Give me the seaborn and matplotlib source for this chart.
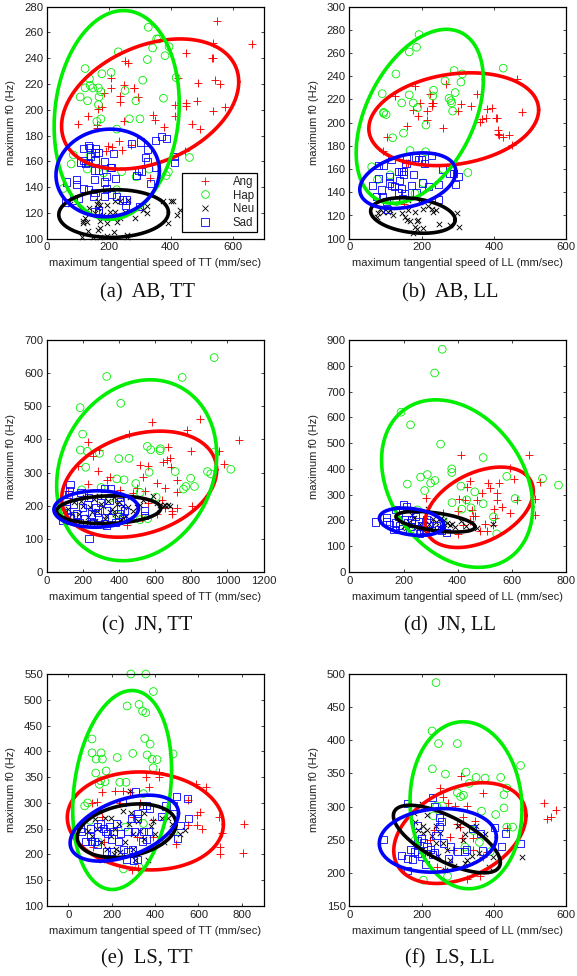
import numpy as np
import pandas as pd
import matplotlib
matplotlib.use("Agg")
import matplotlib.pyplot as plt
from matplotlib.lines import Line2D
import seaborn as sns


# Panel a: AB, TT
A_ANG_X = [549, 662, 536, 534, 537, 450, 253, 264, 208, 425, 490, 544, 560, 207, 251, 283, 282, 185, 237, 237, 294, 178, 167, 415, 450, 450, 485, 576, 538, 415, 342, 350, 248, 132, 102, 162, 162, 380, 468, 495, 235, 199, 210, 192, 242, 272, 447, 334]
A_ANG_Y = [269, 251, 252, 240, 240, 244, 238, 236, 225, 225, 221, 223, 220, 217, 219, 217, 217, 213, 211, 206, 210, 202, 201, 204, 205, 203, 207, 202, 199, 195, 196, 192, 191, 195, 189, 186, 188, 187, 189, 185, 176, 172, 171, 168, 169, 173, 168, 147]
A_HAP_X = [328, 355, 361, 395, 231, 342, 382, 325, 124, 208, 178, 138, 418, 310, 140, 124, 149, 167, 253, 175, 108, 169, 377, 132, 288, 167, 175, 162, 267, 301, 226, 86, 79, 461, 131, 242, 331, 393, 386, 289, 54, 226, 183, 140]
A_HAP_Y = [264, 255, 255, 249, 245, 248, 242, 239, 232, 229, 228, 224, 225, 223, 219, 217, 217, 217, 215, 214, 210, 210, 209, 207, 207, 204, 193, 191, 193, 193, 185, 165, 158, 163, 154, 152, 154, 152, 149, 148, 139, 138, 151, 164]
A_NEU_X = [400, 409, 377, 432, 420, 393, 323, 312, 284, 258, 258, 218, 194, 172, 167, 132, 113, 151, 172, 75, 108, 135, 162, 167, 167, 172, 194, 221, 237, 264, 118, 124, 129, 118, 183, 205, 221, 215, 226, 237, 253, 156, 172, 194, 323]
A_NEU_Y = [129, 129, 129, 122, 118, 112, 125, 122, 116, 103, 101, 105, 102, 108, 107, 106, 101, 101, 101, 127, 124, 124, 127, 129, 124, 126, 126, 129, 129, 130, 114, 116, 113, 112, 118, 121, 121, 117, 113, 116, 121, 120, 114, 112, 120]
A_SAD_X = [372, 388, 351, 275, 302, 326, 318, 325, 353, 411, 412, 118, 135, 138, 158, 167, 156, 215, 140, 118, 108, 124, 135, 156, 186, 156, 167, 205, 210, 194, 221, 188, 65, 95, 95, 153, 118, 135, 192, 156, 151, 188, 210, 226, 102, 88, 61, 245, 259, 253, 301, 156, 167, 167, 334, 296, 307, 291]
A_SAD_Y = [179, 178, 176, 174, 175, 169, 163, 160, 155, 164, 159, 170, 172, 171, 170, 167, 167, 166, 164, 161, 159, 158, 159, 161, 160, 153, 153, 155, 155, 148, 147, 144, 144, 146, 142, 146, 139, 138, 139, 136, 133, 133, 134, 133, 131, 130, 128, 130, 130, 126, 125, 121, 122, 120, 143, 153, 152, 149]

# Panel b: AB, LL
B_ANG_X = [463, 479, 182, 267, 126, 354, 223, 196, 228, 233, 228, 309, 336, 380, 394, 175, 216, 300, 189, 214, 378, 366, 362, 405, 410, 159, 258, 411, 411, 415, 426, 442, 103, 450, 92, 156, 150, 163]
B_ANG_Y = [238, 209, 232, 233, 223, 225, 225, 217, 217, 217, 214, 216, 214, 212, 213, 211, 210, 210, 206, 202, 204, 203, 201, 204, 204, 197, 195, 194, 190, 189, 188, 189, 188, 181, 176, 165, 130, 165]
B_HAP_X = [193, 166, 186, 426, 290, 313, 129, 265, 309, 91, 293, 233, 166, 231, 276, 281, 283, 177, 145, 189, 286, 95, 95, 102, 212, 150, 120, 168, 211, 62, 78, 328, 260, 131, 182, 113, 205]
B_HAP_Y = [276, 261, 265, 247, 245, 242, 242, 236, 235, 225, 226, 228, 224, 223, 221, 219, 217, 217, 217, 213, 210, 209, 208, 207, 198, 191, 187, 176, 175, 162, 151, 157, 160, 132, 139, 155, 148]
B_NEU_X = [299, 304, 249, 186, 191, 182, 205, 186, 177, 279, 233, 239, 205, 219, 228, 182, 163, 145, 154, 159, 168, 122, 108, 94, 80, 76, 85, 113, 163, 196]
B_NEU_Y = [122, 110, 113, 115, 116, 110, 109, 108, 105, 112, 123, 125, 126, 128, 126, 123, 125, 122, 119, 116, 115, 120, 123, 123, 122, 119, 126, 125, 133, 132]
B_SAD_X = [228, 200, 191, 182, 159, 157, 207, 117, 94, 80, 258, 150, 145, 136, 150, 177, 110, 80, 140, 288, 302, 277, 293, 248, 173, 202, 219, 111, 117, 126, 145, 64, 90, 136, 154, 185, 76, 92, 147, 246, 103, 105]
B_SAD_Y = [172, 168, 168, 170, 169, 165, 165, 168, 163, 163, 160, 158, 158, 158, 155, 155, 154, 152, 150, 156, 154, 156, 147, 147, 146, 148, 145, 148, 146, 145, 143, 146, 142, 140, 139, 140, 136, 136, 135, 134, 132, 125]

# Panel c: JN, TT
C_ANG_X = [581, 849, 779, 1065, 456, 231, 290, 674, 797, 951, 258, 982, 175, 517, 563, 646, 665, 683, 687, 286, 351, 332, 535, 720, 609, 231, 655, 720, 498, 406, 480, 545, 637, 803, 720, 692, 696, 609, 655, 526, 443, 120, 129, 222, 563]
C_ANG_Y = [454, 461, 429, 399, 417, 391, 367, 376, 366, 366, 349, 326, 321, 323, 320, 333, 338, 343, 318, 306, 288, 278, 286, 278, 270, 265, 253, 241, 253, 248, 238, 245, 218, 200, 193, 183, 175, 175, 193, 163, 143, 243, 213, 228, 208]
C_HAP_X = [927, 332, 750, 410, 185, 199, 557, 576, 629, 628, 186, 225, 292, 929, 399, 456, 216, 711, 890, 908, 567, 1019, 388, 428, 797, 818, 770, 757, 493, 194, 301, 517, 606, 559, 517, 92, 388, 351]
C_HAP_Y = [647, 590, 587, 509, 496, 416, 379, 369, 372, 366, 368, 364, 358, 362, 342, 343, 316, 303, 303, 296, 301, 310, 281, 278, 283, 258, 258, 250, 267, 248, 255, 240, 226, 161, 158, 181, 173, 223]
C_NEU_X = [674, 683, 655, 646, 591, 609, 628, 535, 517, 480, 425, 120, 150, 180, 200, 230, 260, 280, 300, 320, 340, 360, 380, 400, 420, 440, 460, 500, 170, 210, 250, 290, 330, 370, 410, 140, 190, 240, 270, 310, 350, 390, 450]
C_NEU_Y = [203, 198, 203, 198, 228, 208, 203, 218, 203, 183, 163, 190, 210, 175, 200, 165, 220, 185, 205, 160, 215, 190, 175, 210, 200, 170, 225, 195, 155, 225, 180, 230, 170, 225, 160, 175, 215, 195, 155, 200, 180, 205, 195]
C_SAD_X = [234, 129, 124, 120, 319, 351, 406, 543, 540, 90, 90, 110, 130, 150, 165, 180, 200, 210, 225, 240, 250, 260, 270, 285, 300, 320, 330, 345, 360, 380, 400, 410, 430, 420, 280, 190, 150, 230, 330, 400]
C_SAD_Y = [100, 263, 245, 233, 253, 253, 213, 185, 170, 155, 180, 190, 165, 205, 175, 150, 195, 160, 205, 145, 175, 150, 195, 165, 210, 145, 185, 215, 165, 150, 175, 190, 185, 160, 180, 240, 170, 225, 140, 225]

# Panel d: JN, LL
D_ANG_X = [411, 663, 593, 608, 704, 446, 513, 553, 519, 546, 489, 433, 282, 405, 544, 618, 686, 427, 470, 562, 534, 593, 686, 452, 402, 458, 464, 538, 501, 532, 507, 482, 402, 421, 446, 347]
D_ANG_Y = [453, 453, 403, 362, 351, 354, 345, 347, 325, 306, 306, 328, 289, 284, 280, 280, 283, 280, 280, 254, 244, 229, 222, 241, 238, 216, 216, 209, 187, 183, 158, 158, 147, 183, 196, 229]
D_HAP_X = [343, 315, 191, 226, 337, 494, 581, 713, 772, 378, 378, 288, 263, 316, 300, 214, 278, 412, 463, 612, 433, 379, 494, 449, 415, 532, 544, 251, 347, 224]
D_HAP_Y = [864, 772, 620, 571, 496, 444, 371, 363, 337, 400, 386, 378, 368, 355, 345, 341, 316, 333, 311, 285, 280, 269, 265, 249, 244, 214, 148, 241, 196, 158]
D_NEU_X = [289, 532, 473, 412, 372, 380, 360, 340, 320, 300, 280, 260, 240, 220, 200, 350, 330, 310, 295, 270, 250, 230, 210, 390, 430, 350]
D_NEU_Y = [245, 186, 170, 196, 183, 188, 190, 210, 195, 170, 200, 185, 210, 195, 180, 170, 175, 205, 185, 165, 175, 220, 170, 175, 180, 200]
D_SAD_X = [199, 212, 98, 138, 138, 169, 359, 340, 170, 185, 195, 205, 215, 225, 235, 245, 255, 265, 275, 285, 295, 305, 180, 150, 165, 230, 260, 280, 320, 330]
D_SAD_Y = [261, 254, 194, 212, 196, 241, 155, 160, 190, 180, 170, 205, 190, 175, 160, 215, 195, 180, 165, 205, 190, 160, 215, 185, 165, 205, 150, 155, 180, 165]

# Panel e: LS, TT
E_ANG_X = [420, 358, 420, 372, 588, 634, 215, 251, 154, 134, 108, 285, 551, 608, 592, 695, 808, 592, 554, 615, 708, 700, 700, 805, 495, 292, 323, 392, 154, 300, 115, 162, 315, 392, 331, 238, 469]
E_ANG_Y = [360, 351, 351, 331, 336, 330, 323, 323, 321, 302, 299, 321, 305, 283, 276, 273, 260, 257, 257, 250, 242, 215, 200, 203, 220, 169, 173, 234, 273, 273, 215, 224, 234, 266, 299, 299, 240]
E_HAP_X = [288, 357, 392, 271, 326, 342, 357, 109, 352, 377, 109, 151, 297, 128, 157, 225, 363, 386, 409, 483, 391, 126, 174, 148, 169, 237, 266, 143, 346, 89, 75, 254, 326, 138, 262, 346, 100, 485]
E_HAP_Y = [550, 550, 516, 488, 491, 478, 475, 424, 425, 414, 397, 397, 396, 385, 385, 388, 393, 385, 384, 395, 368, 358, 362, 343, 341, 340, 340, 336, 318, 300, 294, 172, 175, 224, 253, 260, 266, 244]
E_NEU_X = [123, 282, 369, 157, 308, 538, 515, 460, 430, 392, 380, 350, 330, 320, 300, 280, 260, 240, 235, 215, 195, 180, 170, 150, 130, 110, 90, 210, 300, 350, 400, 480, 440, 290, 140, 195, 250, 220]
E_NEU_Y = [268, 323, 189, 189, 189, 247, 240, 270, 270, 265, 255, 230, 245, 265, 240, 260, 225, 205, 260, 250, 235, 210, 270, 225, 250, 235, 245, 200, 210, 280, 240, 260, 225, 280, 285, 270, 285, 210]
E_SAD_X = [308, 498, 551, 554, 515, 503, 446, 485, 428, 269, 54, 300, 320, 150, 160, 170, 180, 190, 200, 210, 220, 230, 240, 100, 105, 80, 120, 135, 275, 255, 275, 295, 305, 320, 340, 360, 375, 345, 370, 340, 360, 290, 320, 250, 200, 175, 100, 135, 60]
E_SAD_Y = [322, 313, 309, 269, 256, 231, 294, 294, 273, 191, 250, 188, 190, 260, 250, 245, 240, 255, 230, 245, 260, 225, 240, 235, 225, 225, 225, 255, 205, 210, 245, 210, 245, 270, 295, 295, 290, 245, 245, 225, 230, 270, 280, 300, 205, 205, 250, 220, 245]

# Panel f: LS, LL
F_ANG_X = [308, 371, 539, 546, 557, 571, 251, 258, 274, 293, 325, 316, 348, 297, 306, 234, 279, 311, 342, 380, 223, 242, 265, 325, 362, 436, 288, 343, 371]
F_ANG_Y = [346, 321, 306, 281, 284, 295, 328, 315, 305, 301, 301, 284, 278, 274, 269, 264, 254, 252, 252, 232, 249, 209, 206, 190, 195, 267, 234, 234, 224]
F_HAP_X = [240, 229, 299, 247, 474, 230, 266, 323, 351, 376, 419, 436, 332, 428, 299, 316, 308, 366, 428, 405, 436, 452, 233, 258, 242, 360, 205, 272, 320, 390, 343, 182]
F_HAP_Y = [487, 414, 395, 395, 362, 357, 349, 352, 344, 343, 344, 328, 335, 318, 321, 317, 315, 293, 298, 288, 269, 269, 286, 301, 301, 246, 189, 195, 239, 232, 264, 249]
F_NEU_X = [479, 387, 376, 399, 200, 214, 182, 190, 205, 215, 230, 240, 250, 260, 270, 280, 290, 300, 315, 320, 325, 320, 340, 350, 360, 200, 185, 220, 245, 265, 180, 240, 205]
F_NEU_Y = [224, 209, 259, 224, 304, 288, 277, 265, 270, 265, 255, 270, 260, 245, 235, 220, 210, 270, 250, 258, 220, 215, 225, 270, 230, 235, 240, 230, 225, 205, 290, 245, 260]
F_SAD_X = [162, 231, 237, 94, 474, 432, 401, 420, 369, 362, 342, 250, 255, 250, 240, 260, 280, 300, 320, 325, 190, 200, 190, 205, 215, 225, 235, 180, 170, 145, 160, 175, 190, 200, 210, 160, 230, 275]
F_SAD_Y = [305, 313, 300, 251, 244, 259, 268, 240, 233, 259, 267, 283, 277, 270, 257, 245, 240, 232, 232, 235, 272, 252, 248, 245, 240, 235, 230, 232, 235, 226, 222, 220, 230, 225, 212, 203, 228, 222]

# Ellipse fits, one entry per emotion in order Ang, Hap, Neu, Sad
A_MEAN_X = [334, 226, 216, 197]
A_MEAN_Y = [204.5, 196, 119.5, 151]
A_HALF_X = [286, 202, 177, 167]
A_HALF_Y = [50.5, 81, 18.5, 34]
A_CORR = [0.34, 0.11, 0.05, 0.05]

B_MEAN_X = [289, 195, 176, 162]
B_MEAN_Y = [203, 205.5, 120, 150]
B_HALF_X = [235, 176, 117, 133]
B_HALF_Y = [40, 75, 15.3, 24]
B_CORR = [0.2, 0.42, -0.25, 0.32]

C_MEAN_X = [512, 498, 343, 274]
C_MEAN_Y = [265, 307, 188, 190]
C_HALF_X = [429, 443, 288, 234]
C_HALF_Y = [160, 273, 42, 55]
C_CORR = [0.27, 0.17, 0.1, 0.03]

D_MEAN_X = [479, 398, 318, 230]
D_MEAN_Y = [251, 343, 195, 195]
D_HALF_X = [200, 279, 146, 119]
D_HALF_Y = [156, 325, 40, 53]
D_CORR = [0.4, -0.28, -0.5, -0.26]

E_MEAN_X = [355, 248, 269, 258]
E_MEAN_Y = [265, 325, 246, 251]
E_HALF_X = [360, 228, 228, 250]
E_HALF_Y = [95, 193, 52, 64]
E_CORR = [-0.07, 0.2, 0.25, 0.45]

F_MEAN_X = [306, 323, 270, 245]
F_MEAN_Y = [260, 302, 251, 249]
F_HALF_X = [183, 155, 148, 162]
F_HALF_Y = [76, 126, 51, 48]
F_CORR = [0.35, -0.05, -0.69, 0.1]

# Axis limits and ticks
X_LIMITS = [(0, 700), (0, 600), (0, 1200), (0, 800), (-100, 900), (0, 600)]
Y_LIMITS = [(100, 280), (100, 300), (0, 700), (0, 900), (100, 550), (150, 500)]
X_TICKS = [range(0, 601, 200), range(0, 601, 200), range(0, 1201, 200), range(0, 801, 200), range(0, 801, 200), range(0, 601, 200)]
Y_TICKS = [range(100, 281, 20), range(100, 301, 20), range(0, 701, 100), range(0, 901, 100), range(100, 551, 50), range(150, 501, 50)]
ARTICULATORS = ["TT", "LL", "TT", "LL", "TT", "LL"]
CAPTIONS = ["(a)  AB, TT", "(b)  AB, LL", "(c)  JN, TT", "(d)  JN, LL", "(e)  LS, TT", "(f)  LS, LL"]
EMOTIONS = ["Ang", "Hap", "Neu", "Sad"]

# Styles
COLORS = {"Ang": "#ff0000", "Hap": "#00ee00", "Neu": "#000000", "Sad": "#0000ff"}
MARKERS = {"Ang": "+", "Hap": "o", "Neu": "x", "Sad": "s"}
SIZES = {"Ang": 32, "Hap": 31, "Neu": 15, "Sad": 26}

# Pixel layout of the 577x976 figure
FIG_W, FIG_H = 577, 976
COL_LEFT = [46.7, 349.3]
ROW_TOP = [6.7, 340.0, 674.0]
AX_W, AX_H = 216.8, 232.0
CAPTION_X = [147, 450]
CAPTION_Y = [293, 626, 959]

POINTS = [
    [(A_ANG_X, A_ANG_Y), (A_HAP_X, A_HAP_Y), (A_NEU_X, A_NEU_Y), (A_SAD_X, A_SAD_Y)],
    [(B_ANG_X, B_ANG_Y), (B_HAP_X, B_HAP_Y), (B_NEU_X, B_NEU_Y), (B_SAD_X, B_SAD_Y)],
    [(C_ANG_X, C_ANG_Y), (C_HAP_X, C_HAP_Y), (C_NEU_X, C_NEU_Y), (C_SAD_X, C_SAD_Y)],
    [(D_ANG_X, D_ANG_Y), (D_HAP_X, D_HAP_Y), (D_NEU_X, D_NEU_Y), (D_SAD_X, D_SAD_Y)],
    [(E_ANG_X, E_ANG_Y), (E_HAP_X, E_HAP_Y), (E_NEU_X, E_NEU_Y), (E_SAD_X, E_SAD_Y)],
    [(F_ANG_X, F_ANG_Y), (F_HAP_X, F_HAP_Y), (F_NEU_X, F_NEU_Y), (F_SAD_X, F_SAD_Y)],
]
FITS = [
    (A_MEAN_X, A_MEAN_Y, A_HALF_X, A_HALF_Y, A_CORR),
    (B_MEAN_X, B_MEAN_Y, B_HALF_X, B_HALF_Y, B_CORR),
    (C_MEAN_X, C_MEAN_Y, C_HALF_X, C_HALF_Y, C_CORR),
    (D_MEAN_X, D_MEAN_Y, D_HALF_X, D_HALF_Y, D_CORR),
    (E_MEAN_X, E_MEAN_Y, E_HALF_X, E_HALF_Y, E_CORR),
    (F_MEAN_X, F_MEAN_Y, F_HALF_X, F_HALF_Y, F_CORR),
]


# Scatter one emotion, open markers get no face colour
def draw_points(ax, emotion, xs, ys):
    color = COLORS[emotion]
    if MARKERS[emotion] in ("o", "s"):
        sns.scatterplot(x=xs, y=ys, ax=ax, marker=MARKERS[emotion], s=SIZES[emotion],
                        facecolors="none", edgecolor=color, linewidth=0.6, zorder=2, clip_on=False)
    else:
        sns.scatterplot(x=xs, y=ys, ax=ax, marker=MARKERS[emotion], s=SIZES[emotion],
                        color=color, linewidth=0.65, zorder=2, clip_on=False)


# Ellipse outline from mean, half extents and correlation
def draw_ellipse(ax, emotion, mean_x, mean_y, half_x, half_y, corr):
    t = np.linspace(0, 2 * np.pi, 200)
    phase = np.arccos(corr)
    outline = pd.DataFrame({
        "x": mean_x + half_x * np.cos(t),
        "y": mean_y + half_y * np.cos(t - phase),
    })
    sns.lineplot(data=outline, x="x", y="y", ax=ax, sort=False, estimator=None,
                 color=COLORS[emotion], linewidth=2.6, zorder=3)


def add_legend(ax):
    handles = []
    for emotion in EMOTIONS:
        open_marker = MARKERS[emotion] in ("o", "s")
        handles.append(Line2D([], [], linestyle="none", marker=MARKERS[emotion],
                              markersize=np.sqrt(SIZES[emotion]), markeredgewidth=0.6,
                              markeredgecolor=COLORS[emotion],
                              markerfacecolor="none" if open_marker else COLORS[emotion],
                              label=emotion))
    legend = ax.legend(handles=handles, loc="lower right", bbox_to_anchor=(0.97, 0.029),
                       fontsize=8.3, frameon=True, fancybox=False, framealpha=1,
                       edgecolor="black", labelspacing=0.135, borderpad=0.29,
                       handlelength=3.4, handletextpad=0.7, borderaxespad=0)
    legend.get_frame().set_linewidth(0.9)
    legend.set_zorder(10)
    for text in legend.get_texts():
        text.set_color("#222222")


def main():
    sns.set_style("ticks")
    plt.rcParams["font.family"] = ["Liberation Sans", "DejaVu Sans"]
    fig = plt.figure(figsize=(FIG_W / 100, FIG_H / 100), dpi=100)

    for i in range(6):
        row, col = i // 2, i % 2
        rect = [COL_LEFT[col] / FIG_W, 1 - (ROW_TOP[row] + AX_H) / FIG_H, AX_W / FIG_W, AX_H / FIG_H]
        ax = fig.add_axes(rect)

        for emotion, (xs, ys) in zip(EMOTIONS, POINTS[i]):
            draw_points(ax, emotion, xs, ys)
        for j, emotion in enumerate(EMOTIONS):
            draw_ellipse(ax, emotion, *[values[j] for values in FITS[i]])

        ax.set_xlim(X_LIMITS[i])
        ax.set_ylim(Y_LIMITS[i])
        ax.set_xticks(list(X_TICKS[i]))
        ax.set_yticks(list(Y_TICKS[i]))
        ax.tick_params(direction="in", length=2.2, width=0.6, labelsize=8.2, pad=2.6,
                       top=True, right=True, colors="#222222")
        ax.set_xlabel(f"maximum tangential speed of {ARTICULATORS[i]} (mm/sec)", fontsize=8.0, color="#222222")
        ax.set_ylabel("maximum f0 (Hz)", fontsize=8.0, color="#222222")
        ax.xaxis.set_label_coords(0.5, -0.085)
        ax.yaxis.set_label_coords(-0.142, 0.5)
        for spine in ax.spines.values():
            spine.set_visible(True)
            spine.set_linewidth(0.9)
            spine.set_color("black")

        if i == 0:
            add_legend(ax)

        fig.text(CAPTION_X[col] / FIG_W, 1 - CAPTION_Y[row] / FIG_H, CAPTIONS[i],
                 family="Liberation Serif", fontsize=14.8, ha="center", va="center", color="#111111")

    fig.savefig("out.png", dpi=100)


if __name__ == "__main__":
    main()
